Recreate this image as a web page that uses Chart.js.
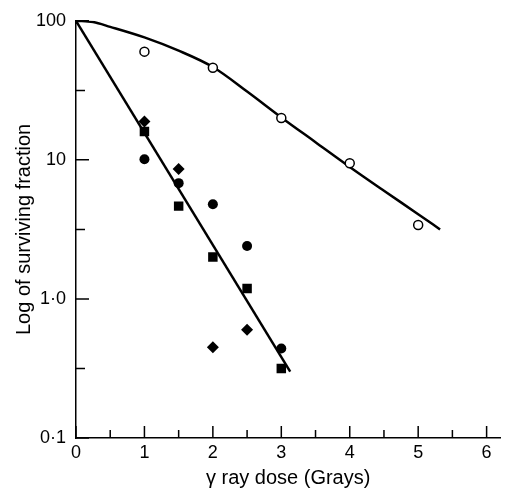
<!DOCTYPE html>
<html>
<head>
<meta charset="utf-8">
<script src="https://cdn.jsdelivr.net/npm/chart.js@4"></script>
<style>
  body { margin: 0; background: #fff; }
</style>
</head>
<body>
<canvas id="myChart" width="507" height="490"></canvas>
<script>
// data
const doses = [1, 2, 3, 4, 5];
const openCircles = [60, 46, 20, 9.45, 3.4];

const filledDoses = [1, 1.5, 2, 2.5, 3];
const filledCircles = [10.1, 6.8, 4.8, 2.4, 0.44];
const squares = [16, 4.65, 2.0, 1.19, 0.316];

const diamondDoses = [1, 1.5, 2, 2.5];
const diamonds = [18.9, 8.6, 0.45, 0.6];

// fitted lines
const curveDoses = [0, 0.25, 0.5, 1, 1.5, 2, 2.5, 3, 3.5, 4, 4.5, 5, 5.32];
const curveValues = [100, 98, 90.5, 76, 61, 46.5, 31, 20.2, 13.4, 8.9, 6.0, 4.07, 3.16];
const lineDoses = [0, 3.13];
const lineValues = [100, 0.3];

// ticks
const xTickValues = [0, 1, 2, 3, 4, 5, 6];
const xMinorTicks = [0.5, 1.5, 2.5, 3.5, 4.5, 5.5];
const yTickValues = [0.1, 1, 10, 100];
const yTickLabels = ['0·1', '1·0', '10', '100'];
const yMinorTicks = [0.316, 3.16, 31.6];

function pts(xs, ys) {
    return xs.map((x, i) => ({ x: x, y: ys[i] }));
}

// tick marks pointing into the plot
const inwardTicks = {
    id: 'inwardTicks',
    beforeDatasetsDraw(chart) {
        const c = chart.ctx;
        const xs = chart.scales.x;
        const ys = chart.scales.y;
        const bottom = chart.chartArea.bottom;
        const left = chart.chartArea.left;
        c.save();
        c.strokeStyle = '#000';
        c.lineWidth = 1.5;
        c.beginPath();
        xTickValues.forEach(v => {
            const px = xs.getPixelForValue(v);
            c.moveTo(px, bottom); c.lineTo(px, bottom - 12);
        });
        xMinorTicks.forEach(v => {
            const px = xs.getPixelForValue(v);
            c.moveTo(px, bottom); c.lineTo(px, bottom - 8);
        });
        yTickValues.forEach(v => {
            const py = ys.getPixelForValue(v);
            c.moveTo(left, py); c.lineTo(left + 13, py);
        });
        yMinorTicks.forEach(v => {
            const py = ys.getPixelForValue(v);
            c.moveTo(left, py); c.lineTo(left + 9, py);
        });
        c.stroke();
        c.restore();
    }
};

const ctx = document.getElementById('myChart').getContext('2d');

const myChart = new Chart(ctx, {
    type: 'scatter',
    data: {
        datasets: [
            {
                data: pts(doses, openCircles),
                pointStyle: 'circle',
                pointRadius: 4.5,
                pointBorderWidth: 1.5,
                pointBackgroundColor: '#fff',
                pointBorderColor: '#000',
                order: 0
            },
            {
                data: pts(filledDoses, filledCircles),
                pointStyle: 'circle',
                pointRadius: 5,
                pointBorderWidth: 0,
                pointBackgroundColor: '#000',
                order: 0
            },
            {
                data: pts(filledDoses, squares),
                pointStyle: 'rect',
                pointRadius: 6.7,
                pointBorderWidth: 0,
                pointBackgroundColor: '#000',
                order: 0
            },
            {
                data: pts(diamondDoses, diamonds),
                pointStyle: 'rectRot',
                pointRadius: 6,
                pointBorderWidth: 0,
                pointBackgroundColor: '#000',
                order: 0
            },
            {
                data: pts(curveDoses, curveValues),
                showLine: true,
                pointRadius: 0,
                borderColor: '#000',
                borderWidth: 2.5,
                cubicInterpolationMode: 'monotone',
                order: 1
            },
            {
                data: pts(lineDoses, lineValues),
                showLine: true,
                pointRadius: 0,
                borderColor: '#000',
                borderWidth: 2.5,
                tension: 0,
                order: 1
            }
        ]
    },
    options: {
        responsive: false,
        animation: false,
        layout: { padding: { top: 20, right: 0, left: 0, bottom: 0 } },
        plugins: {
            legend: { display: false },
            tooltip: { enabled: false }
        },
        scales: {
            x: {
                type: 'linear',
                min: 0,
                max: 6.2,
                afterBuildTicks: s => { s.ticks = xTickValues.map(v => ({ value: v })); },
                afterFit: s => { s.height = 52; },
                grid: { display: true, drawOnChartArea: false, drawTicks: false },
                border: { color: '#000', width: 1.5 },
                ticks: {
                    color: '#000',
                    padding: 4,
                    maxRotation: 0,
                    font: { family: 'Liberation Sans', size: 18 },
                    callback: v => String(v)
                },
                title: {
                    display: true,
                    text: 'γ ray dose (Grays)',
                    color: '#000',
                    font: { family: 'Liberation Sans', size: 20 },
                    padding: { top: 0, bottom: 0 }
                }
            },
            y: {
                type: 'logarithmic',
                min: 0.1,
                max: 100,
                afterBuildTicks: s => { s.ticks = yTickValues.map(v => ({ value: v })); },
                afterFit: s => { s.width = 76; },
                grid: { display: true, drawOnChartArea: false, drawTicks: false },
                border: { color: '#000', width: 1.5 },
                ticks: {
                    color: '#000',
                    padding: 10,
                    font: { family: 'Liberation Sans', size: 18 },
                    callback: (v, i) => yTickLabels[i]
                },
                title: {
                    display: true,
                    text: 'Log of surviving fraction',
                    color: '#000',
                    font: { family: 'Liberation Sans', size: 20 },
                    padding: { top: 12, bottom: 0 }
                }
            }
        }
    },
    plugins: [inwardTicks]
});
</script>
</body>
</html>
